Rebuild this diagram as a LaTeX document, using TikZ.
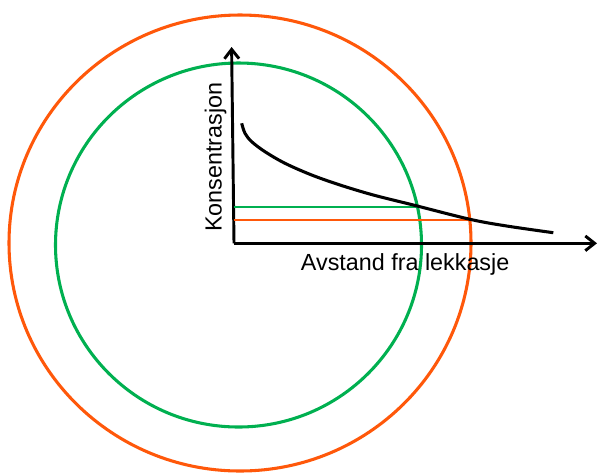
\documentclass[tikz,border=0pt]{standalone}
\usepackage{fontspec}
\setmainfont{Liberation Sans}
\usetikzlibrary{arrows.meta}
\definecolor{ringorange}{RGB}{255,88,10}
\definecolor{ringgreen}{RGB}{0,176,80}
\begin{document}
\begin{tikzpicture}[x=0.75pt,y=-0.75pt,
  ring/.style={line width=2.3pt},
  axisline/.style={line width=2.2pt,-{Straight Barb[length=7pt,width=11pt,line width=2.2pt]}},
  level/.style={line width=1.6pt},
  lbl/.style={inner sep=0pt,font=\fontsize{17.5}{21}\selectfont}]
\useasboundingbox (0,0) rectangle (598,472);
% rings
\draw[ring,ringorange] (240,243) ellipse [x radius=231,y radius=228];
\draw[ring,ringgreen] (238.5,245) ellipse [x radius=183,y radius=182];
% axes
\coordinate (o) at (234,243.3);
\coordinate (ytip) at (231.6,47);
\coordinate (xtip) at (597,243.3);
\draw[axisline] (o) -- (ytip);
\draw[axisline] (o) -- (xtip);
% level lines
\coordinate (g0) at (233.5,206.7);
\coordinate (g1) at (416,206.7);
\coordinate (r0) at (233.5,220);
\coordinate (r1) at (469,220);
\draw[level,ringgreen] (g0) -- (g1);
\draw[level,ringorange] (r0) -- (r1);
% curve
\draw[line width=2.3pt,line cap=butt] plot[smooth,tension=0.55] coordinates {(241.7,123.3) (245,133.3) (251.7,141.7) (265,151.7) (285,163.3) (311.7,175) (340,185) (373.3,195) (413.3,205) (470,219.3) (506.7,226) (553.3,232.7)};
% labels
\node[lbl,rotate=90,anchor=base west] (ylab) at (221.7,232) {Konsentrasjon};
\node[lbl,anchor=base west] (xlab) at (300.7,270) {Avstand fra lekkasje};
\end{tikzpicture}
\end{document}
